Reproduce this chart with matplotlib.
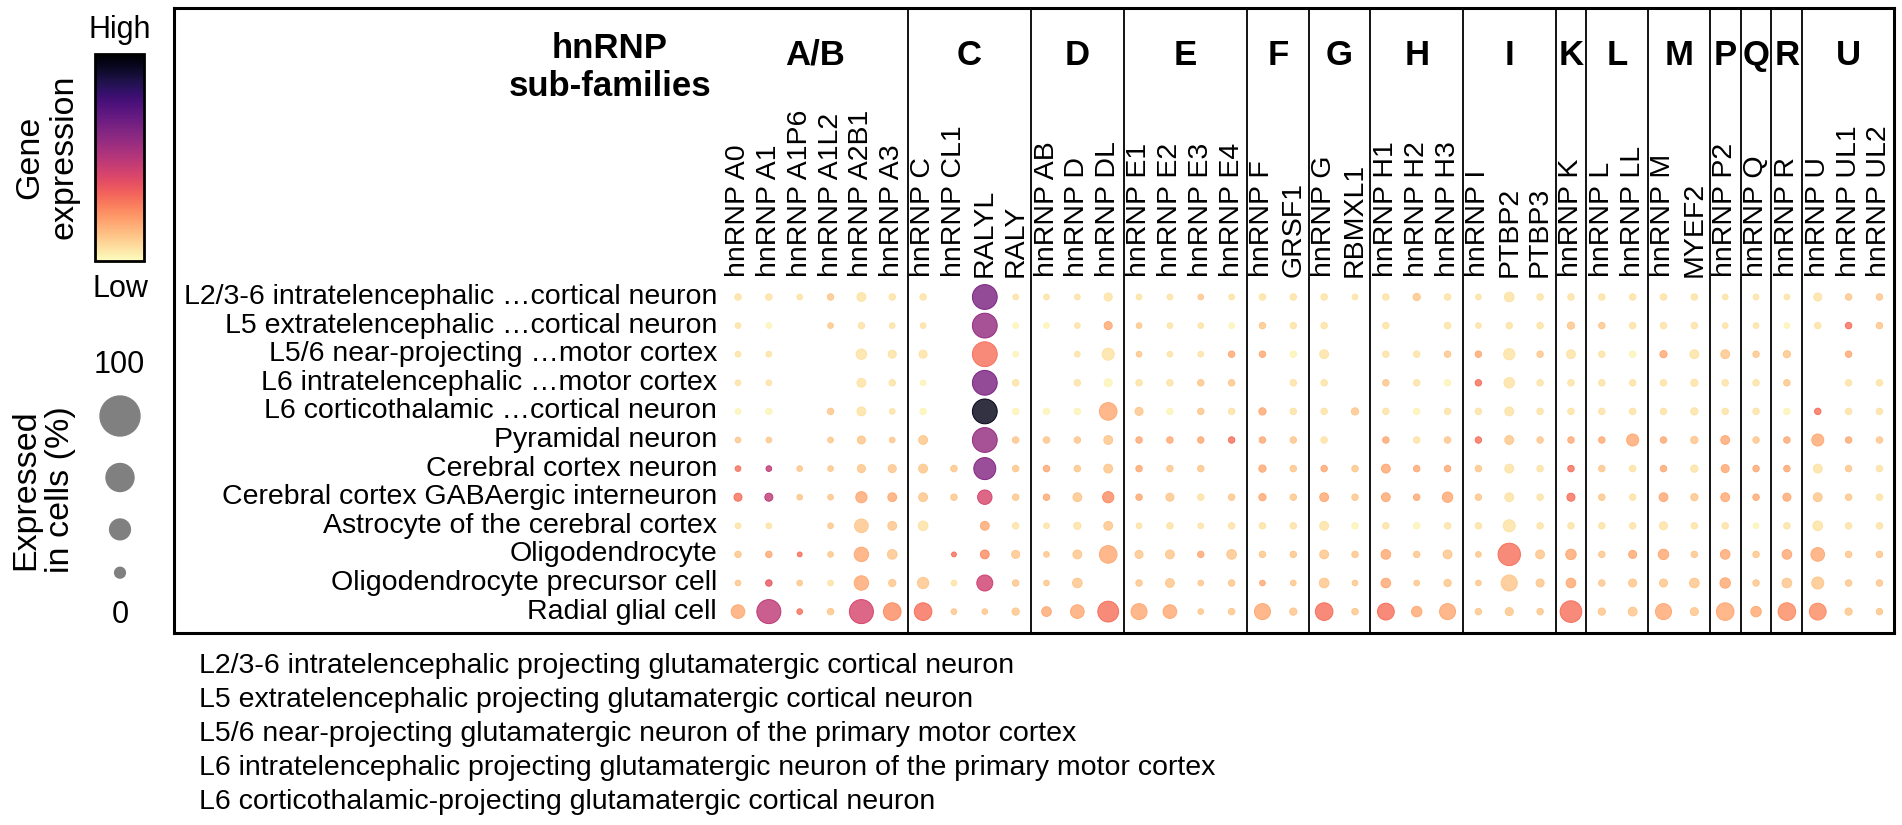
import numpy as np
import matplotlib
matplotlib.use('Agg')
import matplotlib.pyplot as plt
from matplotlib.colors import Normalize
from matplotlib.cm import ScalarMappable

plt.rcParams['font.family'] = ['Liberation Sans', 'DejaVu Sans']

W, H = 1902, 825

#families and genes (columns)
families = ['A/B', 'C', 'D', 'E', 'F', 'G', 'H', 'I', 'K', 'L', 'M', 'P', 'Q', 'R', 'U']
family_sizes = [6, 4, 3, 4, 2, 2, 3, 3, 1, 2, 2, 1, 1, 1, 3]
genes = ['hnRNP A0', 'hnRNP A1', 'hnRNP A1P6', 'hnRNP A1L2', 'hnRNP A2B1', 'hnRNP A3',
         'hnRNP C', 'hnRNP CL1', 'RALYL', 'RALY',
         'hnRNP AB', 'hnRNP D', 'hnRNP DL',
         'hnRNP E1', 'hnRNP E2', 'hnRNP E3', 'hnRNP E4',
         'hnRNP F', 'GRSF1',
         'hnRNP G', 'RBMXL1',
         'hnRNP H1', 'hnRNP H2', 'hnRNP H3',
         'hnRNP I', 'PTBP2', 'PTBP3',
         'hnRNP K',
         'hnRNP L', 'hnRNP LL',
         'hnRNP M', 'MYEF2',
         'hnRNP P2', 'hnRNP Q', 'hnRNP R',
         'hnRNP U', 'hnRNP UL1', 'hnRNP UL2']

#cell types (rows)
cell_types = ['L2/3-6 intratelencephalic \u2026cortical neuron',
              'L5 extratelencephalic \u2026cortical neuron',
              'L5/6 near-projecting \u2026motor cortex',
              'L6 intratelencephalic \u2026motor cortex',
              'L6 corticothalamic \u2026cortical neuron',
              'Pyramidal neuron',
              'Cerebral cortex neuron',
              'Cerebral cortex GABAergic interneuron',
              'Astrocyte of the cerebral cortex',
              'Oligodendrocyte',
              'Oligodendrocyte precursor cell',
              'Radial glial cell']

footnotes = ['L2/3-6 intratelencephalic projecting glutamatergic cortical neuron',
             'L5 extratelencephalic projecting glutamatergic cortical neuron',
             'L5/6 near-projecting glutamatergic neuron of the primary motor cortex',
             'L6 intratelencephalic projecting glutamatergic neuron of the primary motor cortex',
             'L6 corticothalamic-projecting glutamatergic cortical neuron']

# expressed in cells (%), one list per cell type
pct_expressed = [
    [16,16,14,16,22,16, 16,0,62,14, 14,14,20, 14,14,14,14, 16,16, 16,14, 16,18,16, 14,24,16, 16, 16,16, 16,16, 14, 14, 14, 20,16,16],
    [14,14,0,14,16,14, 14,0,62,14, 14,14,20, 14,14,14,14, 16,16, 16,0, 16,0,16, 14,16,16, 18, 16,16, 16,16, 14, 14, 14, 16,16,16],
    [14,14,0,0,26,20, 20,0,62,14, 0,14,30, 14,14,14,16, 16,16, 22,0, 16,16,16, 16,28,16, 22, 16,16, 18,22, 22, 16, 18, 0,16,0],
    [14,14,0,0,22,16, 14,0,62,16, 0,16,20, 16,16,16,16, 0,16, 16,0, 16,16,16, 16,26,16, 16, 16,16, 16,18, 16, 16, 16, 0,16,16],
    [14,16,0,16,22,14, 16,0,62,16, 16,16,44, 20,16,16,16, 18,16, 16,18, 16,16,16, 16,22,16, 16, 16,16, 16,18, 16, 16, 16, 16,16,16],
    [14,14,0,14,20,14, 22,0,62,16, 16,16,22, 16,16,16,16, 16,16, 16,0, 16,16,16, 16,22,16, 16, 16,30, 16,18, 22, 16, 16, 30,16,16],
    [14,14,14,14,20,20, 22,16,55,16, 16,16,22, 16,16,16,0, 18,16, 16,16, 22,16,16, 16,22,16, 16, 16,16, 16,18, 20, 16, 16, 22,16,16],
    [20,20,14,14,28,22, 22,16,36,16, 16,22,28, 16,20,16,16, 18,16, 22,16, 22,16,26, 16,22,16, 20, 16,16, 22,18, 22, 16, 20, 22,16,16],
    [14,14,0,14,34,22, 24,0,22,16, 14,18,22, 14,16,14,16, 16,16, 22,16, 16,16,16, 16,30,16, 16, 16,16, 20,16, 16, 14, 16, 24,16,16],
    [16,16,12,14,36,24, 0,12,22,20, 14,22,44, 20,22,16,24, 16,16, 22,16, 24,16,22, 14,56,22, 26, 16,20, 26,16, 24, 16, 24, 34,16,16],
    [14,16,14,14,36,18, 28,14,40,16, 14,24,0, 16,22,14,16, 14,14, 24,14, 24,14,18, 14,40,20, 24, 16,20, 20,24, 26, 16, 24, 30,16,16],
    [34,60,14,16,60,44, 44,14,14,18, 24,34,52, 40,34,14,16, 40,18, 44,16, 42,26,40, 16,20,16, 54, 18,22, 40,20, 44, 26, 44, 42,18,16],
]

# scaled gene expression (0 = low, 1 = high)
expression = [
    [.06,.06,.06,.12,.06,.06, .06,0,.64,.06, .06,.06,.06, .06,.06,.12,.06, .06,.06, .06,.06, .06,.12,.06, .06,.06,.06, .06, .06,.06, .06,.06, .06, .06, .06, .06,.12,.12],
    [.06,.02,0,.12,.06,.06, .06,0,.58,.02, .02,.06,.18, .12,.06,.06,.02, .12,.06, .06,0, .06,0,.06, .06,.06,.06, .12, .12,.06, .06,.06, .06, .06, .02, .06,.30,.12],
    [.06,.06,0,0,.06,.06, .06,0,.30,.02, 0,.06,.06, .12,.06,.06,.18, .18,.02, .06,0, .06,.06,.12, .18,.06,.12, .06, .06,.02, .18,.06, .12, .12, .12, 0,.18,0],
    [.06,.06,0,0,.06,.06, .02,0,.64,.06, 0,.06,.02, .06,.06,.12,.12, 0,.06, .06,0, .12,.06,.02, .30,.06,.06, .06, .06,.06, .06,.06, .06, .06, .12, 0,.06,.06],
    [.02,.02,0,.12,.06,.06, .02,0,.95,.02, .02,.02,.18, .12,.02,.12,.06, .18,.06, .06,.12, .06,.02,.06, .06,.06,.06, .06, .06,.06, .06,.06, .06, .06, .02, .30,.06,.06],
    [.12,.12,0,.12,.12,.12, .12,0,.58,.12, .12,.12,.12, .18,.18,.18,.30, .18,.12, .06,0, .18,.06,.12, .30,.12,.12, .18, .18,.18, .18,.12, .18, .12, .18, .18,.18,.12],
    [.30,.48,.12,.12,.12,.12, .12,.12,.62,.12, .18,.12,.12, .18,.12,.12,0, .18,.12, .18,.12, .18,.18,.18, .12,.06,.06, .30, .12,.06, .18,.06, .18, .18, .18, .06,.12,.06],
    [.30,.48,.12,.12,.18,.18, .12,.12,.42,.12, .18,.12,.24, .18,.12,.06,.12, .18,.12, .18,.12, .18,.18,.18, .12,.06,.06, .30, .12,.06, .18,.12, .18, .18, .18, .12,.12,.06],
    [.06,.06,0,.12,.12,.12, .06,0,.18,.06, .06,.06,.12, .06,.06,.06,.06, .06,.06, .06,.02, .06,.02,.06, .06,.06,.06, .06, .06,.06, .06,.06, .06, .02, .06, .06,.06,.06],
    [.12,.18,.30,.12,.18,.12, 0,.30,.24,.12, .12,.12,.18, .12,.12,.18,.12, .12,.12, .12,.12, .18,.12,.12, .12,.30,.12, .18, .12,.18, .18,.12, .18, .12, .18, .18,.12,.12],
    [.12,.36,.12,.06,.18,.12, .12,.06,.44,.12, .12,.12,0, .12,.12,.12,.12, .18,.12, .12,.12, .18,.12,.12, .12,.12,.12, .18, .12,.12, .12,.12, .18, .12, .12, .12,.12,.12],
    [.18,.48,.30,.12,.42,.24, .30,.12,.12,.12, .18,.18,.30, .18,.18,.12,.12, .18,.12, .30,.12, .30,.18,.18, .12,.12,.12, .30, .12,.12, .18,.12, .18, .18, .24, .24,.12,.12],
]

legend_pcts = [100, 70, 52, 27]

def dot_px(pct):
    # marker diameter in pixels, linear in percent
    return 0.4 * np.asarray(pct, dtype=float)

def dot_size(pct):
    return (dot_px(pct) * 72 / 100) ** 2

pct = np.array(pct_expressed)
expr = np.array(expression)
n_rows, n_cols = pct.shape
assert n_cols == len(genes) == sum(family_sizes)

cmap = plt.get_cmap('magma_r')

fig = plt.figure(figsize=(W / 100, H / 100), dpi=100)

# main box in pixels
bx0, bx1, by0, by1 = 174, 1894, 8, 633
col0, col_dx = 738, 30.85
row0, row_dy = 297, 28.6

ax = fig.add_axes([bx0 / W, 1 - by1 / H, (bx1 - bx0) / W, (by1 - by0) / H])
ax.set_xlim((bx0 - col0) / col_dx, (bx1 - col0) / col_dx)
ax.set_ylim((by1 - row0) / row_dy, (by0 - row0) / row_dy)
ax.set_xticks([])
ax.set_yticks([])
for sp in ax.spines.values():
    sp.set_linewidth(2.2)

jj, ii = np.meshgrid(np.arange(n_cols), np.arange(n_rows))
mask = pct > 0
face = cmap(expr[mask])
edge = face.copy()
face[:, 3] = 0.82
ax.scatter(jj[mask], ii[mask], s=dot_size(pct[mask]), facecolors=face,
           edgecolors=edge, linewidths=0.7, zorder=3)

# family separators and headers
edges = np.cumsum([0] + family_sizes)
for k in range(1, len(edges) - 1):
    ax.axvline(edges[k] - 0.5, color='black', lw=1.3, zorder=2)
for k, fam in enumerate(families):
    ax.text((edges[k] + edges[k + 1] - 1) / 2, -8.46, fam, ha='center', va='center',
            fontsize=25, fontweight='bold')

ax.text(-4.15, -8.02, 'hnRNP\nsub-families', ha='center', va='center', fontsize=25,
        fontweight='bold', linespacing=1.18)

for j, g in enumerate(genes):
    ax.text(j, -0.70, g, rotation=90, ha='center', va='bottom', fontsize=20.5)
for i, c in enumerate(cell_types):
    ax.text(-0.68, i, c, ha='right', va='center', fontsize=20.5)

# overlay in pixel coordinates for legends and footnotes
ov = fig.add_axes([0, 0, 1, 1], zorder=-1)
ov.set_xlim(0, W)
ov.set_ylim(H, 0)
ov.axis('off')

# colorbar
cax = fig.add_axes([95 / W, 1 - 261 / H, 48.5 / W, 207 / H])
cb = fig.colorbar(ScalarMappable(norm=Normalize(0, 1), cmap=cmap), cax=cax)
cb.set_ticks([])
cb.outline.set_linewidth(2)
ov.text(120, 30, 'High', ha='center', va='center', fontsize=22)
ov.text(120, 289, 'Low', ha='center', va='center', fontsize=22)
ov.text(47, 157, 'Gene\nexpression', rotation=90, ha='center', va='center',
        fontsize=24.5, linespacing=1.15)

# size legend
ys = [416]
for k in range(1, len(legend_pcts)):
    ys.append(ys[-1] + (dot_px(legend_pcts[k - 1]) + dot_px(legend_pcts[k])) / 2 + 27.5)
ov.scatter([120] * len(legend_pcts), ys, s=dot_size(legend_pcts), color='#808080')
ov.text(119, 365, str(legend_pcts[0]), ha='center', va='center', fontsize=22)
ov.text(120, 615, '0', ha='center', va='center', fontsize=22)
ov.text(43, 490, 'Expressed\nin cells (%)', rotation=90, ha='center', va='center',
        fontsize=24.5, linespacing=1.15)

for k, t in enumerate(footnotes):
    ov.text(199, 666 + 34 * k, t, ha='left', va='center', fontsize=20.5)

fig.savefig('out.png', dpi=100)
